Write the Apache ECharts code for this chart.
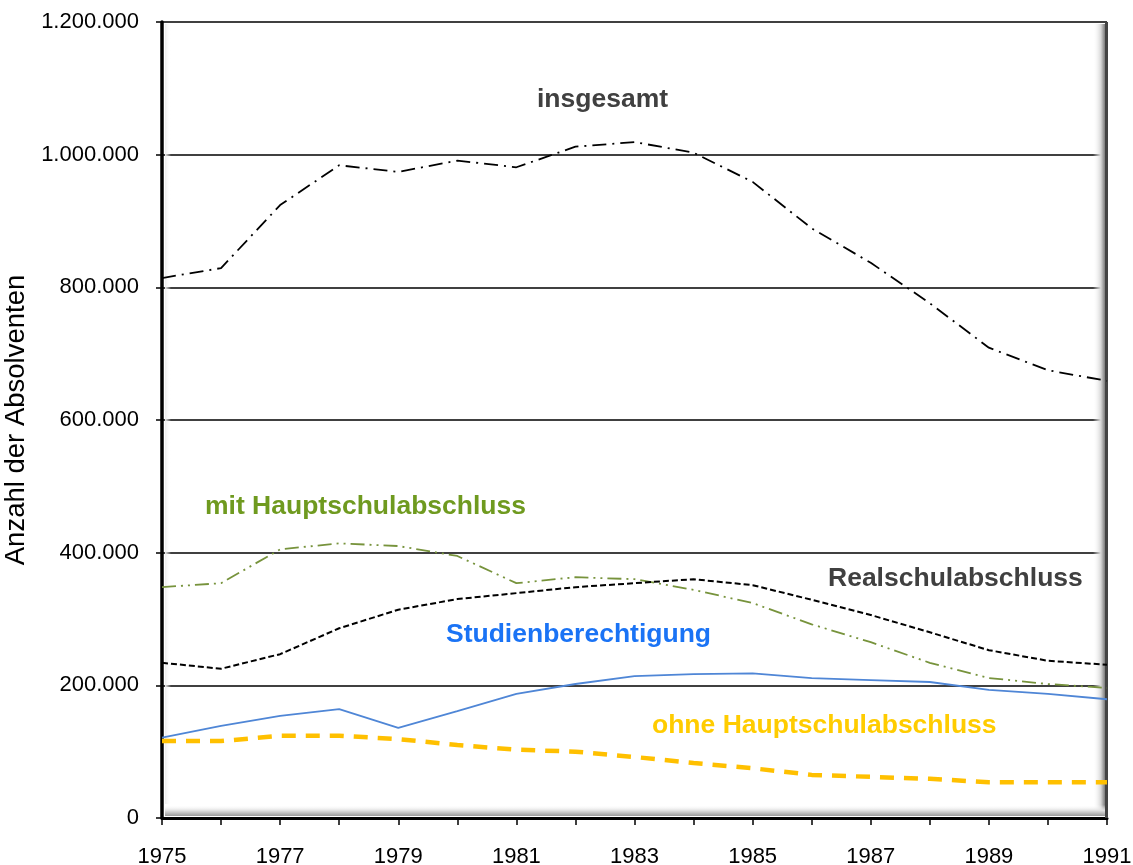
<!DOCTYPE html>
<html>
<head>
<meta charset="utf-8">
<script src="https://cdn.jsdelivr.net/npm/echarts@6/dist/echarts.min.js"></script>
<style>
  html, body { margin: 0; padding: 0; background: #fff; }
  #chart { width: 1133px; height: 865px; }
</style>
</head>
<body>
<div id="chart"></div>
<script>
const years = ['1975', '1976', '1977', '1978', '1979', '1980', '1981', '1982', '1983',
  '1984', '1985', '1986', '1987', '1988', '1989', '1990', '1991']

const insgesamt = [814000, 829000, 924000, 984000, 974000, 991000, 981000, 1012000, 1019000,
  1003000, 959000, 889000, 837000, 776000, 709000, 675000, 659000]
const mitHauptschule = [348000, 354000, 405000, 414000, 410000, 395000, 354000, 363000, 360000,
  344000, 324000, 292000, 265000, 234000, 211000, 202000, 196000]
const realschule = [234000, 225000, 247000, 286000, 314000, 330000, 339000, 348000, 354000,
  360000, 351000, 329000, 306000, 280000, 253000, 237000, 231000]
const studien = [121000, 139000, 154000, 164000, 136000, 161000, 187000, 202000, 214000,
  217000, 218000, 211000, 208000, 205000, 193000, 187000, 179000]
const ohneHauptschule = [116000, 116000, 124000, 124000, 119000, 110000, 103000, 100000, 92000,
  83000, 75000, 65000, 62000, 59000, 54000, 54000, 54000]

const font = '"Liberation Sans", Arial, sans-serif'

function fmt(v) {
  return String(v).replace(/\B(?=(\d{3})+(?!\d))/g, '.')
}

const chart = echarts.init(document.getElementById('chart'))

// plot area edges in px (grid below)
const L = 162, R = 1107, T = 22, B = 818

const option = {
  backgroundColor: '#fff',
  animation: false,
  grid: {
    left: L, right: 1133 - R, top: T, bottom: 865 - B,
    containLabel: false, outerBoundsMode: 'none'
  },
  xAxis: {
    type: 'category',
    data: years,
    boundaryGap: false,
    axisLine: { lineStyle: { color: '#000', width: 3 } },
    axisTick: { show: true, interval: 0, length: 7, lineStyle: { color: '#000', width: 1.5 } },
    axisLabel: {
      interval: 1, color: '#000', fontFamily: font, fontSize: 22, margin: 28
    },
    splitLine: { show: false }
  },
  yAxis: {
    type: 'value',
    min: 0,
    max: 1200000,
    interval: 200000,
    name: 'Anzahl der Absolventen',
    nameLocation: 'middle',
    nameGap: 123,
    nameTextStyle: { color: '#000', fontFamily: font, fontSize: 27.5 },
    axisLine: { show: true, lineStyle: { color: '#000', width: 3.5 } },
    axisTick: { show: true, length: 6, lineStyle: { color: '#000', width: 1.5 } },
    axisLabel: {
      color: '#000', fontFamily: font, fontSize: 22, margin: 23,
      formatter: fmt
    },
    splitLine: { lineStyle: { color: '#000', width: 1.5 } }
  },
  graphic: [
    // bevel shadow on right and bottom edges of plot area
    {
      type: 'rect', silent: true, z: 1,
      shape: { x: R - 14, y: T + 2, width: 13, height: B - T - 4 },
      style: {
        fill: new echarts.graphic.LinearGradient(0, 0, 1, 0, [
          { offset: 0, color: 'rgba(255,255,255,0)' },
          { offset: 0.6, color: '#d8d8d8' },
          { offset: 1, color: '#666' }
        ])
      }
    },
    {
      type: 'rect', silent: true, z: 1,
      shape: { x: L + 3, y: B - 13, width: R - L - 5, height: 11 },
      style: {
        fill: new echarts.graphic.LinearGradient(0, 0, 0, 1, [
          { offset: 0, color: 'rgba(255,255,255,0)' },
          { offset: 0.5, color: '#e0e0e0' },
          { offset: 1, color: '#999' }
        ])
      }
    },
    {
      type: 'rect', silent: true, z: 1,
      shape: { x: L + 3, y: T + 2, width: 6, height: B - T - 16 },
      style: {
        fill: new echarts.graphic.LinearGradient(0, 0, 1, 0, [
          { offset: 0, color: '#ececec' },
          { offset: 1, color: 'rgba(255,255,255,0)' }
        ])
      }
    },
    {
      type: 'line', silent: true, z: 2,
      shape: { x1: R - 0.5, y1: T, x2: R - 0.5, y2: B },
      style: { stroke: '#444', lineWidth: 3 }
    },
    {
      type: 'text', z: 10, left: 537, top: 86,
      style: { text: 'insgesamt', fill: '#404040', font: 'bold 26.5px ' + font }
    },
    {
      type: 'text', z: 10, left: 205, top: 493,
      style: { text: 'mit Hauptschulabschluss', fill: '#6F9A1F', font: 'bold 26.5px ' + font }
    },
    {
      type: 'text', z: 10, left: 828, top: 565,
      style: { text: 'Realschulabschluss', fill: '#404040', font: 'bold 26.5px ' + font }
    },
    {
      type: 'text', z: 10, left: 446, top: 621,
      style: { text: 'Studienberechtigung', fill: '#1A73F5', font: 'bold 26.5px ' + font }
    },
    {
      type: 'text', z: 10, left: 652, top: 712,
      style: { text: 'ohne Hauptschulabschluss', fill: '#FFCC00', font: 'bold 26.5px ' + font }
    }
  ],
  series: [
    {
      name: 'insgesamt',
      type: 'line',
      data: insgesamt,
      symbol: 'none',
      z: 5,
      lineStyle: { color: '#000', width: 1.8, type: [14, 6, 2, 6] }
    },
    {
      name: 'mit Hauptschulabschluss',
      type: 'line',
      data: mitHauptschule,
      symbol: 'none',
      z: 5,
      lineStyle: { color: '#77933C', width: 1.8, type: [14, 5, 2, 5, 2, 5] }
    },
    {
      name: 'Realschulabschluss',
      type: 'line',
      data: realschule,
      symbol: 'none',
      z: 5,
      lineStyle: { color: '#000', width: 2, type: [6, 3] }
    },
    {
      name: 'Studienberechtigung',
      type: 'line',
      data: studien,
      symbol: 'none',
      z: 5,
      lineStyle: { color: '#4F86D6', width: 1.8 }
    },
    {
      name: 'ohne Hauptschulabschluss',
      type: 'line',
      data: ohneHauptschule,
      symbol: 'none',
      z: 5,
      lineStyle: { color: '#FFC000', width: 4.5, type: [14, 10] }
    }
  ]
}

chart.setOption(option)
</script>
</body>
</html>
